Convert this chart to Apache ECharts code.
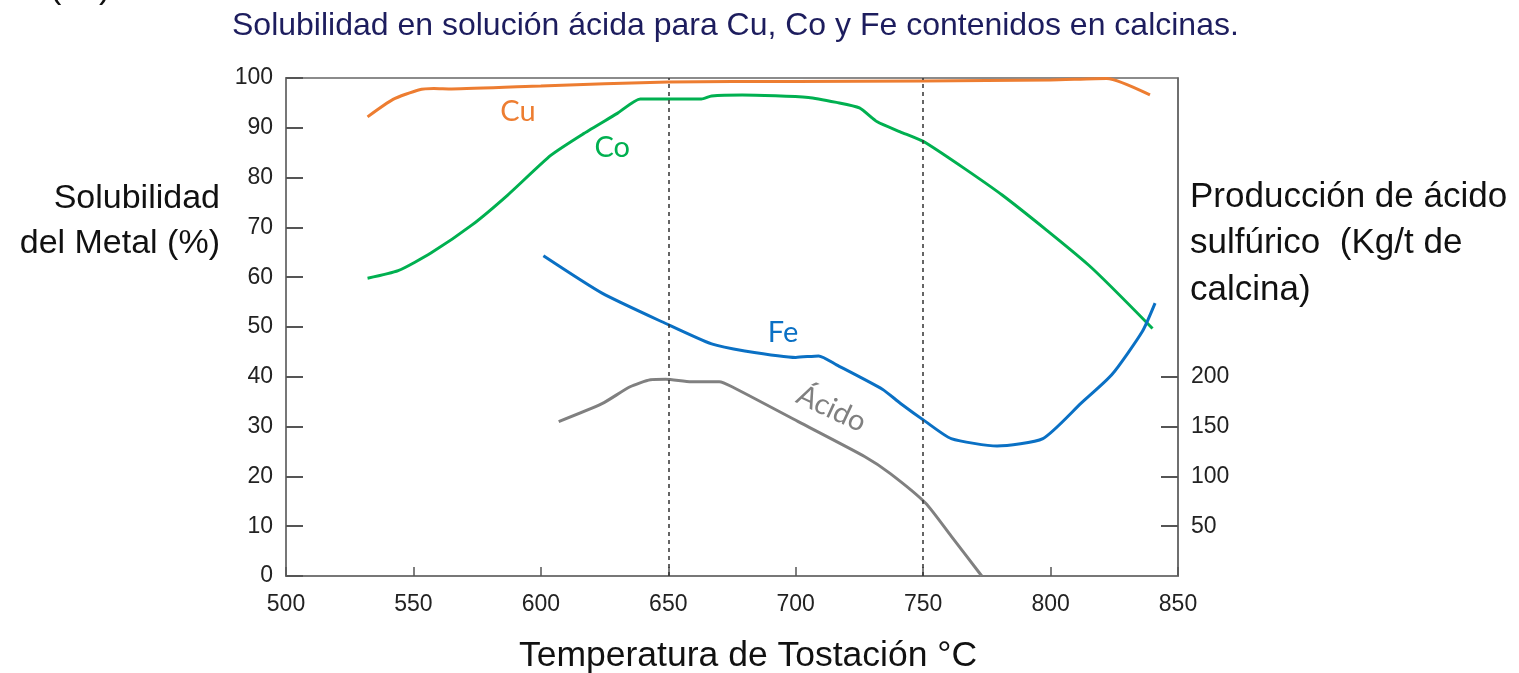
<!DOCTYPE html>
<html>
<head>
<meta charset="utf-8">
<script src="https://cdn.jsdelivr.net/npm/echarts@6/dist/echarts.min.js"></script>
<style>
html,body{margin:0;padding:0;background:#fff;}
#chart{width:1519px;height:673px;}
</style>
</head>
<body>
<div id="chart"></div>
<script>
// ---- data ----
const xTicks = [500, 550, 600, 650, 700, 750, 800, 850];
const leftTicks = [0, 10, 20, 30, 40, 50, 60, 70, 80, 90, 100];
const rightTicks = [50, 100, 150, 200];
const guideTemps = [650, 750];

const cuTemp = [532, 542, 552, 558, 565, 600, 650, 700, 750, 800, 822, 839];
const cuSol  = [92.2, 95.7, 97.6, 97.9, 97.8, 98.4, 99.2, 99.3, 99.4, 99.6, 99.9, 96.6];

const coTemp = [532, 544, 557, 573, 587, 604, 617, 630, 639, 663, 667, 679, 705, 716, 725, 732, 741, 751, 781, 815, 840];
const coSol  = [59.8, 61.3, 64.9, 70.5, 76.5, 84.5, 88.9, 92.9, 95.8, 95.8, 96.4, 96.6, 96.1, 95.1, 94.0, 91.2, 89.2, 87.0, 76.5, 62.4, 49.7];

const feTemp = [601, 624, 649, 667, 680, 700, 709, 716, 734, 741, 751, 761, 779, 797, 812, 824, 836, 841];
const feSol  = [64.3, 56.8, 50.7, 46.6, 45.2, 43.9, 44.2, 42.4, 37.5, 34.7, 31.0, 27.6, 26.1, 27.6, 34.7, 40.4, 49.1, 54.8];

const acidTemp = [607, 624, 635, 643, 649, 659, 670, 675, 701, 727, 737, 751, 761, 773];
const acidProd = [155, 173, 190, 197, 197.5, 195, 195, 190, 155, 120, 103, 73, 40, 0];

// curve labels: [temperature, value]
const curveLabels = {
  Cu: [591, 93.2],
  Co: [628, 86.1],
  Fe: [695, 48.9],
  'Ácido': [714, 168]
};

const zip = (a, b) => a.map((v, i) => [v, b[i]]);

const FONT = '"Liberation Sans", Arial, sans-serif';
const LFONT = 'Lato, "Open Sans", sans-serif';
const COLORS = { Cu: '#ED7D31', Co: '#00B050', Fe: '#0A70C4', 'Ácido': '#808080' };

function labelPoint(name, rotate) {
  const c = curveLabels[name];
  return {
    symbol: 'circle', symbolSize: 0, silent: true,
    data: [{ coord: [c[0], c[1]], value: name }],
    label: {
      show: true, position: 'inside', formatter: name,
      color: COLORS[name], fontFamily: LFONT, fontSize: 29,
      rotate: rotate || 0
    }
  };
}

function lineSeries(name, t, v, yIdx, extra) {
  return Object.assign({
    name: name, type: 'line', yAxisIndex: yIdx,
    data: zip(t, v), showSymbol: false, smooth: 0.2,
    lineStyle: { color: COLORS[name], width: 3 },
    itemStyle: { color: COLORS[name] },
    markPoint: labelPoint(name, name === 'Ácido' ? -25 : 0),
    z: 3
  }, extra || {});
}

const chart = echarts.init(document.getElementById('chart'), null, { renderer: 'canvas' });
chart.setOption({
  backgroundColor: '#fff',
  animation: false,
  title: [
    { text: 'Solubilidad en solución ácida para Cu, Co y Fe contenidos en calcinas.',
      left: 232, top: 10, padding: 0,
      textStyle: { fontFamily: FONT, fontSize: 32, fontWeight: 'normal', color: '#1d1d5e' } },
    { text: 'Solubilidad\ndel Metal (%)', left: 220, top: 176, padding: 0,
      textAlign: 'right',
      textStyle: { fontFamily: FONT, fontSize: 34, fontWeight: 'normal', color: '#111', lineHeight: 45, align: 'right' } },
    { text: 'Producción de ácido\nsulfúrico  (Kg/t de\ncalcina)', left: 1190, top: 174, padding: 0,
      textStyle: { fontFamily: FONT, fontSize: 35, fontWeight: 'normal', color: '#111', lineHeight: 46.5 } },
    { text: 'Temperatura de Tostación °C', left: 519, top: 638, padding: 0,
      textStyle: { fontFamily: FONT, fontSize: 35.5, fontWeight: 'normal', color: '#111' } },
    { text: '( b )', left: 50, top: -28, padding: 0,
      textStyle: { fontFamily: FONT, fontSize: 34, fontWeight: 'normal', color: '#111' } }
  ],
  grid: { left: 286, right: 1519 - 1178, top: 78, bottom: 673 - 576,
          show: true, borderColor: '#666', borderWidth: 1.5, backgroundColor: 'transparent' },
  xAxis: {
    type: 'value', min: xTicks[0], max: xTicks[xTicks.length - 1], interval: 50,
    axisLine: { show: true, onZero: false, lineStyle: { color: '#777', width: 2 } },
    axisTick: { show: true, inside: true, length: 9, lineStyle: { color: '#555', width: 1.5 } },
    axisLabel: { fontFamily: FONT, fontSize: 23, color: '#222', margin: 17 },
    splitLine: { show: false }
  },
  yAxis: [
    {
      type: 'value', min: 0, max: 100, interval: 10, position: 'left',
      axisLine: { show: true, lineStyle: { color: '#777', width: 2 } },
      axisTick: { show: true, inside: true, length: 17, lineStyle: { color: '#555', width: 2 } },
      axisLabel: { fontFamily: FONT, fontSize: 23, color: '#222', margin: 13,
                   customValues: leftTicks, padding: [0, 0, 8, 0] },
      splitLine: { show: false }
    },
    {
      type: 'value', min: 0, max: 500, interval: 50, position: 'right',
      axisLine: { show: true, lineStyle: { color: '#666', width: 1.5 } },
      axisTick: { show: true, inside: true, length: 17, customValues: rightTicks,
                  lineStyle: { color: '#555', width: 2 } },
      axisLabel: { fontFamily: FONT, fontSize: 23, color: '#222', margin: 13,
                   customValues: rightTicks },
      splitLine: { show: false }
    }
  ],
  series: [
    lineSeries('Cu', cuTemp, cuSol, 0, {
      markLine: {
        silent: true, symbol: ['none', 'none'],
        label: { show: false },
        lineStyle: { color: '#333', type: [4, 4], width: 1.5 },
        data: guideTemps.map(t => ({ xAxis: t }))
      }
    }),
    lineSeries('Co', coTemp, coSol, 0),
    lineSeries('Fe', feTemp, feSol, 0),
    lineSeries('Ácido', acidTemp, acidProd, 1)
  ]
});
</script>
</body>
</html>
